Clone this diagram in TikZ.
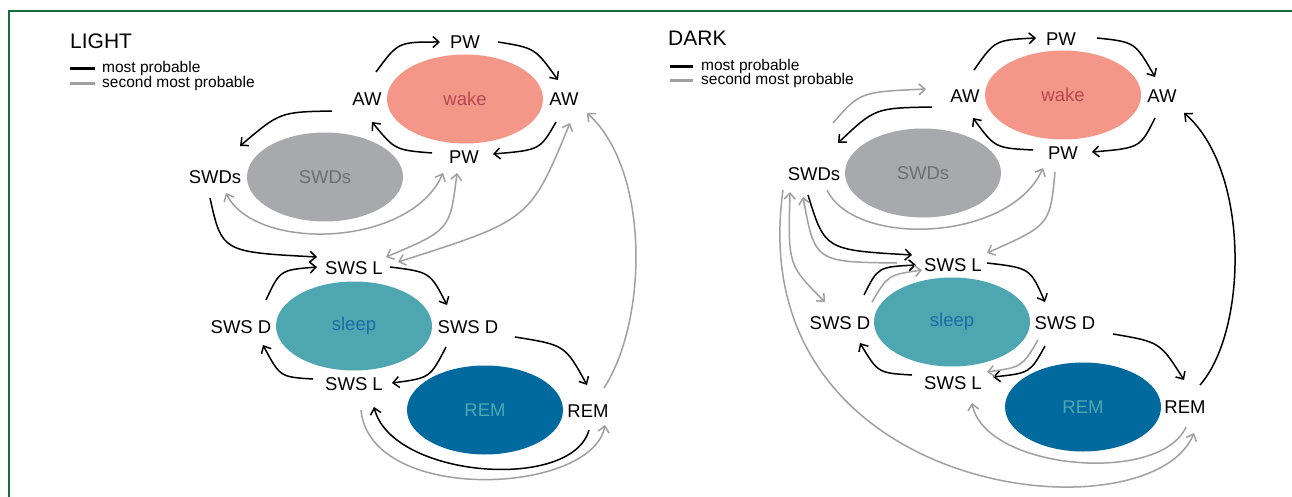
\documentclass[tikz,border=0pt]{standalone}
\usepackage{fontspec}
\setmainfont{Liberation Sans}
\usetikzlibrary{arrows.meta,shapes.geometric,calc}
\definecolor{framegreen}{RGB}{25,105,60}
\definecolor{wakefill}{RGB}{244,151,137}
\definecolor{waketext}{RGB}{176,74,80}
\definecolor{swdfill}{RGB}{167,169,172}
\definecolor{swdtext}{RGB}{110,111,113}
\definecolor{sleepfill}{RGB}{78,166,176}
\definecolor{sleeptext}{RGB}{25,110,165}
\definecolor{remfill}{RGB}{0,106,158}
\definecolor{remtext}{RGB}{78,166,176}
\definecolor{arrgrey}{RGB}{160,160,160}
\tikzset{
  lbl/.style={inner sep=1pt,font=\fontsize{18.5}{20}\selectfont},
  blob/.style={ellipse,inner sep=0pt,minimum width=156pt,minimum height=89pt,font=\fontsize{18.5}{20}\selectfont},
  title/.style={anchor=west,inner sep=0pt,font=\fontsize{21}{23}\selectfont},
  legtext/.style={anchor=west,inner sep=0pt,font=\fontsize{15.5}{17}\selectfont},
  tip/.style={},
  blk/.style={draw=black,line width=1.5pt,-{Straight Barb[length=6pt,width=11pt]}},
  gry/.style={draw=arrgrey,line width=1.5pt,-{Straight Barb[length=6pt,width=11pt]}},
  gry2/.style={draw=arrgrey,line width=1.5pt,{Straight Barb[length=6pt,width=11pt]}-{Straight Barb[length=6pt,width=11pt]}},
  legblk/.style={draw=black,line width=3pt},
  leggry/.style={draw=arrgrey,line width=3pt},
}
\begin{document}
\begin{tikzpicture}[x=1pt,y=-1pt]
\useasboundingbox (0,0) rectangle (1292,497);
\fill[white] (0,0) rectangle (1292,497);
% frame
\coordinate (fr1) at (1292,11);
\coordinate (fr2) at (9,11);
\coordinate (fr3) at (9,497);
\draw[framegreen,line width=2.5pt] (fr1) -- (fr2) -- (fr3);

% ================= LIGHT =================
\node[title] (Ltitle) at (70,41) {LIGHT};
\coordinate (Llg1a) at (70,69); \coordinate (Llg1b) at (95,69);
\coordinate (Llg2a) at (70,84); \coordinate (Llg2b) at (95,84);
\draw[legblk] (Llg1a) -- (Llg1b);
\draw[leggry] (Llg2a) -- (Llg2b);
\node[legtext] (Llt1) at (102,68) {most probable};
\node[legtext] (Llt2) at (102,83) {second most probable};

\node[blob,fill=wakefill,text=waketext] (Lwake) at (465,99) {wake};
\node[blob,fill=swdfill,text=swdtext] (Lswd) at (325,177) {SWDs};
\node[blob,fill=sleepfill,text=sleeptext] (Lsleep) at (354,326) {sleep};
\node[blob,fill=remfill,text=remtext] (Lrem) at (485,410) {REM};

\node[lbl] (Lpwt) at (465,42) {PW};
\node[lbl] (Lawl) at (367,99) {AW};
\node[lbl] (Lawr) at (564,99) {AW};
\node[lbl] (Lpwb) at (464,157) {PW};
\node[lbl] (Lswdl) at (215,177) {SWDs};
\node[lbl] (Lslt) at (354,268) {SWS L};
\node[lbl] (Lsdl) at (241,327) {SWS D};
\node[lbl] (Lsdr) at (468,327) {SWS D};
\node[lbl] (Lslb) at (354,384) {SWS L};
\node[lbl] (Lreml) at (588,411) {REM};

\draw[blk] ($(Lawl)+(9,-27)$) .. controls (398,42) .. ($(Lpwt)+(-25,0)$);
\draw[blk] ($(Lpwt)+(33,0)$) .. controls (535,48) .. ($(Lawr)+(-6,-19)$);
\draw[blk] ($(Lawr)+(-8,23)$) .. controls (540,150) .. ($(Lpwb)+(29,-3)$);
\draw[blk] ($(Lpwb)+(-32,-4)$) .. controls (395,150) .. ($(Lawl)+(5,23)$);
\draw[blk] ($(Lawl)+(-35,12)$) .. controls (280,112) .. ($(Lswdl)+(25,-31)$);
\draw[blk] ($(Lswdl)+(-5,21)$) .. controls (222,252) .. ($(Lslt)+(-37,-11)$);
\draw[blk] ($(Lslt)+(36,-1)$) .. controls (430,272) .. ($(Lsdr)+(-21,-22)$);
\draw[blk] ($(Lsdr)+(-22,20)$) .. controls (430,378) .. ($(Lslb)+(38,-1)$);
\draw[blk] ($(Lslb)+(-41,-5)$) .. controls (280,377) .. ($(Lsdl)+(22,18)$);
\draw[blk] ($(Lsdl)+(25,-27)$) .. controls (280,270) .. ($(Lslt)+(-37,-1)$);
\draw[blk] ($(Lsdr)+(47,10)$) .. controls (565,345) .. ($(Lreml)+(-1,-26)$);
\draw[blk] ($(Lreml)+(1,19)$) .. controls (572,492) and (392,478) .. ($(Lslb)+(20,23)$);
\draw[gry] ($(Lslb)+(7,26)$) .. controls (370,505) and (592,495) .. ($(Lreml)+(17,14)$);
\draw[gry] ($(Lreml)+(16,-23)$) .. controls (648,320) and (650,170) .. ($(Lawr)+(23,14)$);
\draw[gry2] ($(Lswdl)+(11,16)$) .. controls (255,252) and (410,248) .. ($(Lpwb)+(-21,16)$);
\draw[gry2] ($(Lpwb)+(-7,16)$) .. controls (450,230) .. ($(Lslt)+(32,-11)$);
\draw[gry2] ($(Lawr)+(6,24)$) .. controls (530,220) .. ($(Lslt)+(44,-6)$);

% ================= DARK =================
\node[title] (Dtitle) at (668,38) {DARK};
\coordinate (Dlg1a) at (670,67); \coordinate (Dlg1b) at (693,67);
\coordinate (Dlg2a) at (670,81); \coordinate (Dlg2b) at (693,81);
\draw[legblk] (Dlg1a) -- (Dlg1b);
\draw[leggry] (Dlg2a) -- (Dlg2b);
\node[legtext] (Dlt1) at (701,66) {most probable};
\node[legtext] (Dlt2) at (701,80) {second most probable};

\node[blob,fill=wakefill,text=waketext] (Dwake) at (1063,95) {wake};
\node[blob,fill=swdfill,text=swdtext] (Dswd) at (923,173) {SWDs};
\node[blob,fill=sleepfill,text=sleeptext] (Dsleep) at (952,322) {sleep};
\node[blob,fill=remfill,text=remtext] (Drem) at (1083,407) {REM};

\node[lbl] (Dpwt) at (1061,39) {PW};
\node[lbl] (Dawl) at (965,96) {AW};
\node[lbl] (Dawr) at (1162,96) {AW};
\node[lbl] (Dpwb) at (1063,153) {PW};
\node[lbl] (Dswdl) at (814,174) {SWDs};
\node[lbl] (Dslt) at (953,265) {SWS L};
\node[lbl] (Dsdl) at (840,323) {SWS D};
\node[lbl] (Dsdr) at (1065,323) {SWS D};
\node[lbl] (Dslb) at (953,383) {SWS L};
\node[lbl] (Dreml) at (1185,407) {REM};

\draw[blk] ($(Dawl)+(9,-26)$) .. controls (995,40) .. ($(Dpwt)+(-25,-1)$);
\draw[blk] ($(Dpwt)+(36,-1)$) .. controls (1135,42) .. ($(Dawr)+(-7,-19)$);
\draw[blk] ($(Dawr)+(-7,22)$) .. controls (1140,148) .. ($(Dpwb)+(29,-1)$);
\draw[blk] ($(Dpwb)+(-30,-3)$) .. controls (995,148) .. ($(Dawl)+(8,22)$);
\draw[blk] ($(Dawl)+(-33,11)$) .. controls (875,108) .. ($(Dswdl)+(24,-31)$);
\draw[gry] ($(Dswdl)+(19,-51)$) .. controls (860,92) .. ($(Dawl)+(-39,-7)$);
\draw[gry] ($(Dswdl)+(13,16)$) .. controls (855,248) and (1010,242) .. ($(Dpwb)+(-20,15)$);
\draw[gry] ($(Dpwb)+(-8,19)$) .. controls (1050,225) .. ($(Dslt)+(34,-12)$);
\draw[blk] ($(Dswdl)+(-6,21)$) .. controls (825,250) .. ($(Dslt)+(-41,-10)$);
\draw[gry] ($(Dslt)+(-56,-2)$) .. controls (815,262) .. ($(Dswdl)+(-11,23)$);
\draw[gry2] ($(Dswdl)+(-24,18)$) .. controls (788,265) .. ($(Dsdl)+(-15,-21)$);
\draw[gry] ($(Dswdl)+(-31,16)$) .. controls (740,500) and (1150,540) .. ($(Dreml)+(9,26)$);
\draw[gry] ($(Dreml)+(1,20)$) .. controls (1160,485) and (985,470) .. ($(Dslb)+(19,20)$);
\draw[blk] ($(Dreml)+(15,-22)$) .. controls (1248,330) and (1250,170) .. ($(Dawr)+(22,17)$);
\draw[blk] ($(Dslt)+(34,-2)$) .. controls (1030,268) .. ($(Dsdr)+(-20,-21)$);
\draw[blk] ($(Dsdr)+(-20,23)$) .. controls (1030,373) .. ($(Dslb)+(40,-6)$);
\draw[gry] ($(Dsdr)+(-27,17)$) .. controls (1022,367) .. ($(Dslb)+(34,-11)$);
\draw[blk] ($(Dslb)+(-41,-8)$) .. controls (878,373) .. ($(Dsdl)+(20,20)$);
\draw[blk] ($(Dsdl)+(24,-28)$) .. controls (878,267) .. ($(Dslt)+(-37,0)$);
\draw[gry] ($(Dsdl)+(32,-21)$) .. controls (888,275) .. ($(Dslt)+(-31,5)$);
\draw[blk] ($(Dsdr)+(48,11)$) .. controls (1160,342) .. ($(Dreml)+(-1,-27)$);
\end{tikzpicture}
\end{document}
